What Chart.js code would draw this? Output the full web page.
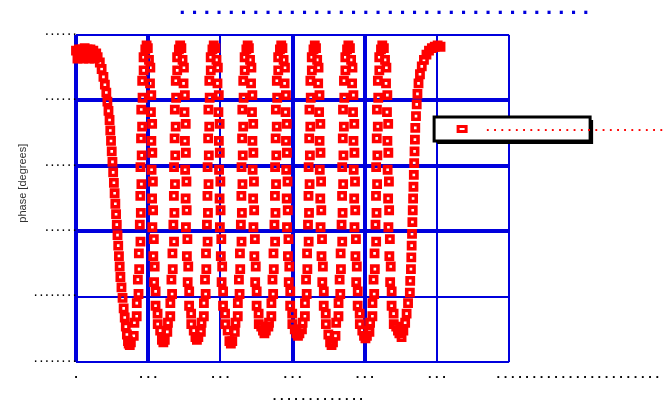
<!DOCTYPE html>
<html><head><meta charset="utf-8">
<script src="https://cdn.jsdelivr.net/npm/chart.js@4/dist/chart.umd.min.js"></script>
<style>html,body{margin:0;padding:0;background:#fff}#wrap{width:664px;height:409px}</style>
</head><body><div id="wrap"><canvas id="c" width="664" height="409"></canvas></div>
<script>
// ---- text (rendered as dots in the reference) ----
const chartTitle = '. . . . . . . . . . . . . . . . . . . . . . . . . . . . . . . . . .';
const yAxisTitle = '          phase [degrees]';
const xAxisTitle = '              . . . . . . . . . . . . .';
const legendLabel = '. . . . . . . . . . . . . . . . . . . . . . . . .';
const xTickLabels = ['.', '. . .', '. . .', '. . .', '. . .', '. . .',
  '                                      . . . . . . . . . . . . . . . . . . . . . . .'];
const yTickLabels = ['. . . . . . . .', '. . . . . . . .', '. . . . . .', '. . . . . .', '. . . . . .', '. . . . . .'];

// ---- data (one line per stretch of the curve) ----
const freq = [
  0.0,0.2,0.4,0.6,0.8,1.0,1.2,1.4,1.6,1.8,2.0,2.2,2.4,2.6,2.8,
  3.0,3.3,3.55,3.8,4.0,4.2,4.35,4.5,4.65,4.75,4.85,4.95,5.05,5.15,5.25,5.35,5.45,5.55,5.65,5.75,5.85,5.95,6.05,6.15,6.3,6.45,6.6,6.75,6.9,7.05,7.2,
  7.3,7.45,7.6,
  8.00,8.09,8.41,8.42,8.66,8.57,8.75,8.71,8.93,8.84,8.98,8.91,9.06,8.93,9.10,9.01,9.16,9.04,9.22,9.17,9.37,9.36,9.60, 9.78,
  9.95,10.11,10.30,10.25,10.43,10.38,10.55,10.44,10.57,10.47,10.65,10.54,10.68,10.58,10.78,10.71,10.90,10.82,11.03,11.02,11.30,11.32,11.66,
  11.9,12.1,12.3,
  12.65,12.74,13.06,13.07,13.31,13.22,13.40,13.36,13.58,13.49,13.63,13.56,13.71,13.58,13.75,13.66,13.81,13.69,13.87,13.82,14.02,14.01,14.25, 14.43,
  14.60,14.76,14.95,14.90,15.08,15.03,15.20,15.09,15.22,15.12,15.30,15.19,15.33,15.23,15.43,15.36,15.55,15.47,15.68,15.67,15.95,15.97,16.31,
  16.55,16.75,16.95,
  17.30,17.39,17.71,17.72,17.96,17.87,18.05,18.01,18.23,18.14,18.28,18.21,18.36,18.23,18.40,18.31,18.46,18.34,18.52,18.47,18.67,18.66,18.90, 19.08,
  19.30,19.46,19.65,19.60,19.78,19.73,19.90,19.79,19.92,19.82,20.00,19.89,20.03,19.93,20.13,20.06,20.25,20.17,20.38,20.37,20.65,20.67,21.01,
  21.25,21.45,21.65,
  22.00,22.09,22.41,22.42,22.66,22.57,22.75,22.71,22.93,22.84,22.98,22.91,23.06,22.93,23.10,23.01,23.16,23.04,23.22,23.17,23.37,23.36,23.60, 23.78,
  23.95,24.11,24.30,24.25,24.43,24.38,24.55,24.44,24.57,24.47,24.65,24.54,24.68,24.58,24.78,24.71,24.90,24.82,25.03,25.02,25.30,25.32,25.66,
  25.9,26.1,26.3,
  26.65,26.74,27.06,27.07,27.31,27.22,27.40,27.36,27.58,27.49,27.63,27.56,27.71,27.58,27.75,27.66,27.81,27.69,27.87,27.82,28.02,28.01,28.25, 28.43,
  28.60,28.76,28.95,28.90,29.08,29.03,29.20,29.09,29.22,29.12,29.30,29.19,29.33,29.23,29.43,29.36,29.55,29.47,29.68,29.67,29.95,29.97,30.31,
  30.55,30.75,30.95,
  31.30,31.39,31.71,31.72,31.96,31.87,32.05,32.01,32.23,32.14,32.28,32.21,32.36,32.23,32.40,32.31,32.46,32.34,32.52,32.47,32.67,32.66,32.90, 33.08,
  33.25,33.41,33.60,33.55,33.73,33.68,33.85,33.74,33.87,33.77,33.95,33.84,33.98,33.88,34.08,34.01,34.20,34.12,34.33,34.32,34.60,34.62,34.96,
  35.2,35.4,35.6,
  35.95,36.04,36.36,36.37,36.61,36.52,36.70,36.66,36.88,36.79,36.93,36.86,37.01,36.88,37.05,36.96,37.11,36.99,37.17,37.12,37.32,37.31,37.55, 37.73,
  37.95,38.11,38.30,38.25,38.43,38.38,38.55,38.44,38.57,38.47,38.65,38.54,38.68,38.58,38.78,38.71,38.90,38.82,39.03,39.02,39.30,39.32,39.66,
  39.9,40.1,40.3,
  40.65,40.74,41.06,41.07,41.31,41.22,41.40,41.36,41.58,41.49,41.63,41.56,41.71,41.58,41.75,41.66,41.81,41.69,41.87,41.82,42.02,42.01,42.25, 42.43,
  42.65,42.81,43.00,42.95,43.13,43.08,43.25,43.14,43.27,43.17,43.35,43.24,43.38,43.28,43.48,43.41,43.60,43.52,43.73,43.72,44.00,44.02,44.36,
  44.6,44.8,45.0,
  45.1,45.35,45.6,45.8,46.0,46.25,46.3,46.4,46.45,46.5,46.55,46.6,46.65,46.7,46.75,46.8,46.85,46.9,46.95,47.0,47.1,47.2,47.3,47.45,47.65,47.9,48.2,48.55,48.9,49.3,49.7,50.1,50.5
];
const phase = [
  238,232,239,233,239,232,240,233,239,232,239,233,238,232,236,
  233,229,224,218,212,206,199,192,185,177,169,161,153,145,137,129,121,113,105,97,89,81,73,65,57,49,41,34,27,21,16,
  14,13,15,
  20,30,35,45,52,63,71,83,92,105,114,127,136,149,158,171,180,193,202,215,223,233,239, 242,
  240,231,225,213,204,191,182,169,160,147,138,125,116,103,94,81,73,61,54,43,37,29,24,
  17,15,17,
  23,30,35,45,52,63,71,83,92,105,114,127,136,149,158,171,180,193,202,215,223,233,239, 242,
  240,231,225,213,204,191,182,169,160,147,138,125,116,103,94,81,73,61,54,43,37,29,24,
  19,17,19,
  23,30,35,45,52,63,71,83,92,105,114,127,136,149,158,171,180,193,202,215,223,233,239, 242,
  240,231,225,213,204,191,182,169,160,147,138,125,116,103,94,81,73,61,54,43,37,29,24,
  16,14,16,
  23,30,35,45,52,63,71,83,92,105,114,127,136,149,158,171,180,193,202,215,223,233,239, 242,
  240,231,225,213,204,191,182,169,160,147,138,125,116,103,94,81,73,61,54,43,37,29,27,
  24,22,24,
  27,30,35,45,52,63,71,83,92,105,114,127,136,149,158,171,180,193,202,215,223,233,239, 242,
  240,231,225,213,204,191,182,169,160,147,138,125,116,103,94,81,73,61,54,43,37,29,25,
  22,20,22,
  25,30,35,45,52,63,71,83,92,105,114,127,136,149,158,171,180,193,202,215,223,233,239, 242,
  240,231,225,213,204,191,182,169,160,147,138,125,116,103,94,81,73,61,54,43,37,29,21,
  15,13,15,
  20,30,35,45,52,63,71,83,92,105,114,127,136,149,158,171,180,193,202,215,223,233,239, 242,
  240,231,225,213,204,191,182,169,160,147,138,125,116,103,94,81,73,61,54,43,37,29,24,
  20,18,20,
  23,30,35,45,52,63,71,83,92,105,114,127,136,149,158,171,180,193,202,215,223,233,239, 242,
  240,231,225,213,204,191,182,169,160,147,138,125,116,103,94,81,73,61,54,43,37,29,27,
  24,22,24,
  19,24,30,37,45,53,62,71,80,89,98,107,116,125,134,143,152,161,170,179,188,197,205,213,220,226,231,235,238,240,241,242,241
];

// ---- styles ----
const RED = '#ff0000';
const GRID = '#0000dd';
const xGridWidths = [4, 4, 2, 4, 4, 2, 2];
const yGridWidths = [2, 2, 4, 4, 4, 2];
const dotFont = 'Liberation Sans';

const n = Math.min(freq.length, phase.length);
const points = [];
for (let i = 0; i < n; i++) points.push({x: freq[i], y: phase[i]});

const overlay = {
  id: 'overlay',
  afterDraw(chart) {
    const {ctx, chartArea: a} = chart;
    ctx.save();
    ctx.font = 'bold 22px "' + dotFont + '"';
    ctx.fillStyle = GRID;
    ctx.textAlign = 'center';
    ctx.textBaseline = 'alphabetic';
    ctx.fillText(chartTitle, a.right - 125, 14);
    const bx = a.right - 75, by = a.top + 82, bw = 156, bh = 24;
    ctx.fillStyle = '#000';
    ctx.fillRect(bx + 3, by + 3, bw, bh);
    ctx.fillStyle = '#fff';
    ctx.fillRect(bx, by, bw, bh);
    ctx.lineWidth = 3;
    ctx.strokeStyle = '#000';
    ctx.strokeRect(bx, by, bw, bh);
    ctx.strokeStyle = RED;
    ctx.lineWidth = 3;
    ctx.strokeRect(bx + 24, by + 9.5, 8, 5);
    ctx.font = 'bold 13px "' + dotFont + '"';
    ctx.fillStyle = RED;
    ctx.textAlign = 'left';
    ctx.fillText(legendLabel, bx + 52, by + 13.5);
    ctx.restore();
  }
};

new Chart(document.getElementById('c'), {
  type: 'scatter',
  data: {datasets: [{
    label: legendLabel,
    data: points,
    showLine: false,
    pointStyle: 'rect',
    pointRadius: 4.4,
    pointHoverRadius: 4.4,
    pointBorderColor: RED,
    pointBackgroundColor: 'rgba(255,255,255,0)',
    pointBorderWidth: 3.6,
    clip: false
  }]},
  options: {
    responsive: false,
    animation: false,
    devicePixelRatio: 1,
    events: [],
    layout: {padding: {left: 0, right: 153, top: 35, bottom: 0}},
    plugins: {legend: {display: false}, title: {display: false}, tooltip: {enabled: false}},
    scales: {
      x: {
        type: 'linear', min: 0, max: 60, z: 1,
        afterFit: s => { s.height = 47; },
        ticks: {stepSize: 10, autoSkip: false, maxRotation: 0, minRotation: 0, padding: 5,
          color: '#000', font: {family: dotFont, size: 13, weight: 'bold'},
          callback: (v, i) => xTickLabels[i]},
        grid: {color: GRID, lineWidth: c => xGridWidths[c.index] || 2, drawTicks: false},
        border: {display: false},
        title: {display: true, text: xAxisTitle, color: '#000',
          font: {family: dotFont, size: 13, weight: 'bold'}, padding: {top: 0, bottom: 5}}
      },
      y: {
        type: 'linear', min: 0, max: 250, z: 1,
        afterFit: s => { s.width = 76; },
        ticks: {stepSize: 50, padding: 0, labelOffset: -3, color: '#000',
          font: {family: dotFont, size: 10, weight: 'bold'},
          callback: (v, i) => yTickLabels[i]},
        grid: {color: GRID, lineWidth: c => yGridWidths[c.index] || 2, drawTicks: false},
        border: {display: false},
        title: {display: true, text: yAxisTitle, color: '#333',
          font: {family: dotFont, size: 11}, padding: {top: 16, bottom: 0}}
      }
    }
  },
  plugins: [overlay]
});
</script>
</body></html>
